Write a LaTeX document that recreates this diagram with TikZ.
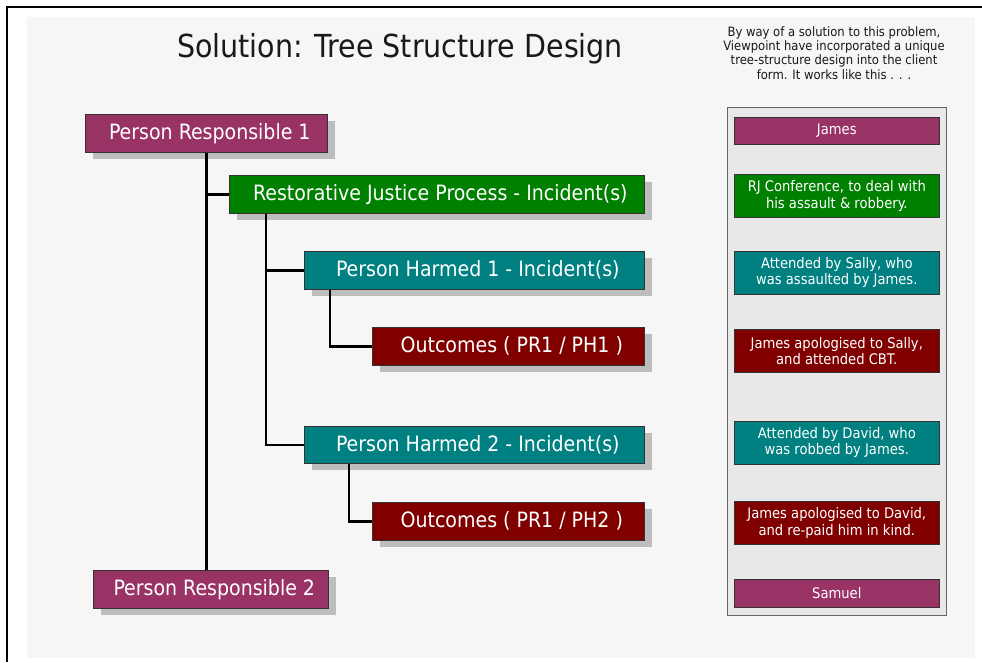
\documentclass[tikz,border=0pt]{standalone}
\usepackage{fontspec}
\IfFontExistsTF{DejaVu Sans Condensed}{\setmainfont{DejaVu Sans Condensed}}{\setmainfont{DejaVu Sans}[FakeStretch=0.9]}
\usetikzlibrary{shadows}
\definecolor{prc}{HTML}{993366}
\definecolor{rjc}{HTML}{008000}
\definecolor{phc}{HTML}{008080}
\definecolor{occ}{HTML}{800000}
\definecolor{shd}{HTML}{BDBDBD}
\definecolor{bgl}{HTML}{F6F6F6}
\definecolor{pnl}{HTML}{E8E8E8}
\tikzset{
  treebox/.style={draw=black!80, line width=0.6pt, text=white, anchor=north west,
    font=\fontsize{21.1}{24}\selectfont, inner sep=0pt,
    execute at begin node=\hspace*{7pt},
    drop shadow={shadow xshift=8pt, shadow yshift=-7pt, fill=shd, opacity=1}},
  sidebox/.style={draw=black!80, line width=0.6pt, text=white, anchor=north west,
    font=\fontsize{14.6}{16.5}\selectfont, inner sep=0pt, align=center,
    minimum width=205pt},
  conn/.style={line width=2.6pt, black},
}
\begin{document}
\begin{tikzpicture}[x=1pt,y=-1pt]
\useasboundingbox (0,0) rectangle (982,662);
\fill[white] (0,0) rectangle (982,662);
\fill[bgl] (27,17) rectangle (975,658);
\draw[line width=2pt] (6.5,662) -- (6.5,6.5) -- (982,6.5);

\node[font=\fontsize{31.7}{36}\selectfont, text=black!90] (title) at (400,49) {Solution: Tree Structure Design};
\node[font=\fontsize{12.9}{14.3}\selectfont, align=center, text=black!90] (intro) at (834,53)
  {By way of a solution to this problem,\\Viewpoint have incorporated a unique\\tree-structure design into the client\\form. It works like this . . .};

% tree
\node[treebox, fill=prc, minimum width=242pt, minimum height=38pt] (PR1) at (85,114) {Person Responsible 1};
\node[treebox, fill=rjc, minimum width=415pt, minimum height=38pt] (RJ) at (229,175) {Restorative Justice Process - Incident(s)};
\node[treebox, fill=phc, minimum width=340pt, minimum height=38pt] (PH1) at (304,251) {Person Harmed 1 - Incident(s)};
\node[treebox, fill=occ, minimum width=272pt, minimum height=38pt] (O1) at (372,327) {Outcomes ( PR1 / PH1 )};
\node[treebox, fill=phc, minimum width=340pt, minimum height=37pt] (PH2) at (304,426) {Person Harmed 2 - Incident(s)};
\node[treebox, fill=occ, minimum width=272pt, minimum height=38pt] (O2) at (372,502) {Outcomes ( PR1 / PH2 )};
\node[treebox, fill=prc, minimum width=235pt, minimum height=38pt] (PR2) at (93,570) {Person Responsible 2};

\draw[conn] (PR1.south) -- (PR1.south |- PR2.north);
\draw[conn] (PR1.south |- RJ.west) -- (RJ.west);
\coordinate (rjx) at ([xshift=37pt]RJ.south west);
\draw[conn] (rjx) |- (PH2.west);
\draw[conn] (rjx |- PH1.west) -- (PH1.west);
\draw[conn] ([xshift=26pt]PH1.south west) |- (O1.west);
\draw[conn] ([xshift=45pt]PH2.south west) |- (O2.west);

% side panel
\node[draw=black!60, line width=1pt, fill=pnl, anchor=north west, minimum width=219pt, minimum height=508pt, inner sep=0pt] (panel) at (727,107) {};
\node[sidebox, fill=prc, minimum height=27pt] (s1) at (734,116.5) {James};
\node[sidebox, fill=rjc, minimum height=43pt] (s2) at (734,174) {RJ Conference, to deal with\\his assault \& robbery.};
\node[sidebox, fill=phc, minimum height=43pt] (s3) at (734,250.7) {Attended by Sally, who\\was assaulted by James.};
\node[sidebox, fill=occ, minimum height=43pt] (s4) at (734,329) {James apologised to Sally,\\and attended CBT.};
\node[sidebox, fill=phc, minimum height=43pt] (s5) at (734,420.7) {Attended by  David, who\\was robbed by James.};
\node[sidebox, fill=occ, minimum height=43pt] (s6) at (734,501) {James apologised to David,\\and re-paid him in kind.};
\node[sidebox, fill=prc, minimum height=27.5pt] (s7) at (734,579.3) {Samuel};
\end{tikzpicture}
\end{document}
